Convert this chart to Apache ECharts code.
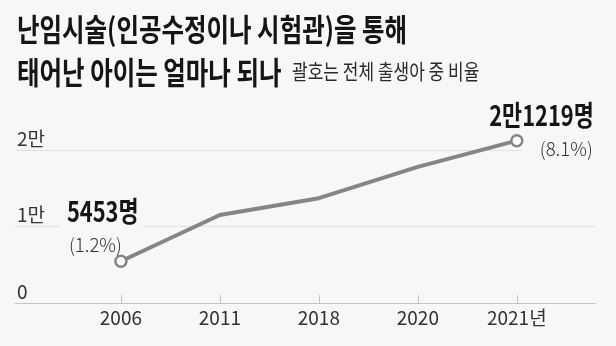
<!DOCTYPE html>
<html>
<head>
<meta charset="utf-8">
<script src="https://cdn.jsdelivr.net/npm/echarts@6/dist/echarts.min.js"></script>
<style>
html,body{margin:0;padding:0;background:#f7f7f7;}
#c{width:616px;height:346px;}
</style>
</head>
<body>
<div id="c"></div>
<script>
const years = ['2006', '2011', '2018', '2020', '2021년'];
const births = [5453, 11500, 13700, 17800, 21219];
const yTicks = {0: '0', 10000: '1만', 20000: '2만'};
const firstLabel = ['5453명', '(1.2%)'];
const lastLabel = ['2만1219명', '(8.1%)'];
const titleLines = ['난임시술(인공수정이나 시험관)을 통해', '태어난 아이는 얼마나 되나'];
const subtitle = '괄호는 전체 출생아 중 비율';

const KR = '"Noto Sans CJK KR", "Noto Sans", sans-serif';
const lineColor = '#858585';
const chart = echarts.init(document.getElementById('c'), null, {renderer: 'canvas'});

const data = births.map((v, i) => ({
  value: [i, v],
  symbol: (i === 0 || i === births.length - 1) ? 'circle' : 'none'
}));
const idx = years.map((_, i) => i);

chart.setOption({
  backgroundColor: '#f7f7f7',
  animation: false,
  grid: {left: 15, right: 21, top: 150, bottom: 43},
  xAxis: {
    type: 'value', min: -1.07, max: 4.79,
    splitLine: {show: false},
    axisLine: {show: true, lineStyle: {color: '#c4c4c4', width: 1}},
    axisTick: {show: true, inside: true, length: 8, customValues: idx, lineStyle: {color: '#c4c4c4'}},
    axisLabel: {
      customValues: idx,
      formatter: v => years[Math.round(v)],
      fontFamily: KR, fontSize: 19, color: '#333', margin: 5
    }
  },
  yAxis: {
    type: 'value', min: 0, max: 20000, interval: 10000,
    axisLine: {show: false}, axisTick: {show: false},
    splitLine: {lineStyle: {color: '#e0e0e0', width: 1}},
    axisLabel: {
      inside: true, margin: 2, verticalAlign: 'bottom',
      formatter: v => yTicks[v] !== undefined ? yTicks[v] : '',
      fontFamily: KR, fontSize: 19, color: '#333', padding: [0, 0, 2, 0]
    }
  },
  series: [{
    type: 'line', data: data, clip: false, z: 2,
    lineStyle: {color: lineColor, width: 4},
    symbolSize: 11,
    itemStyle: {color: '#fff', borderColor: lineColor, borderWidth: 2.5}
  }]
});

const p0 = chart.convertToPixel({seriesIndex: 0}, [0, births[0]]);
const pN = chart.convertToPixel({seriesIndex: 0}, [births.length - 1, births[births.length - 1]]);

function txt(x, y, text, font, sx, align, fill, z) {
  return {
    type: 'text', x: x, y: y, scaleX: sx, z: z || 5,
    style: {text: text, font: font, fill: fill || '#111', textAlign: align || 'left', textVerticalAlign: 'middle'}
  };
}

chart.setOption({
  graphic: [
    txt(17, 29, titleLines[0], 'bold 31px ' + KR, 0.79, 'left', '#151515'),
    txt(17, 72, titleLines[1], 'bold 31px ' + KR, 0.79, 'left', '#151515'),
    txt(292, 71, subtitle, '21px ' + KR, 0.81, 'left', '#2a2a2a'),
    {type: 'rect', z: 1, shape: {x: p0[0] - 61, y: p0[1] - 64, width: 83, height: 31}, style: {fill: '#f7f7f7'}},
    txt(p0[0] - 54, p0[1] - 50, firstLabel[0], 'bold 28px ' + KR, 0.78, 'left', '#151515'),
    txt(p0[0] - 52, p0[1] - 17, firstLabel[1], '300 19px ' + KR, 0.98, 'left', '#333'),
    {type: 'rect', z: 1, shape: {x: pN[0] + 6, y: pN[1] - 1, width: 76, height: 18}, style: {fill: '#f7f7f7'}},
    txt(pN[0] + 77, pN[1] - 25, lastLabel[0], 'bold 28px ' + KR, 0.78, 'right', '#151515'),
    txt(pN[0] + 76, pN[1] + 8, lastLabel[1], '300 19px ' + KR, 0.98, 'right', '#333')
  ]
});
</script>
</body>
</html>
